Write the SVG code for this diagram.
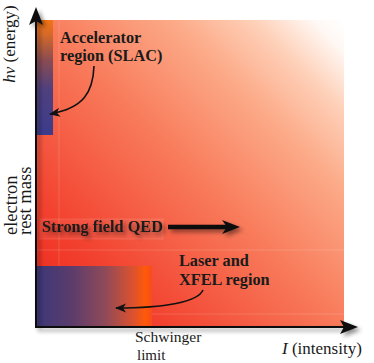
<svg xmlns="http://www.w3.org/2000/svg" width="374" height="363" viewBox="0 0 374 363">
<defs>
<style>
.lbl{font-family:"Liberation Serif","DejaVu Serif",serif;font-weight:bold;font-size:16.3px;fill:#1a1a1a}
.ax{font-family:"Liberation Serif","DejaVu Serif",serif;fill:#1a1a1a}
.grid{stroke:#5a5a5a;stroke-width:1}
.faint{stroke:#ffffff;stroke-opacity:0.15;stroke-width:1}
.curve{fill:none;stroke:#111;stroke-width:1.6}
</style>
<linearGradient id="bg" gradientUnits="userSpaceOnUse" x1="36" y1="327" x2="344" y2="20">
<stop offset="0" stop-color="#ec2418"/>
<stop offset="0.2" stop-color="#f2402e"/>
<stop offset="0.5" stop-color="#f87a5a"/>
<stop offset="0.72" stop-color="#fcaa88"/>
<stop offset="0.85" stop-color="#fed0b8"/>
<stop offset="0.95" stop-color="#fff8f4"/>
<stop offset="1" stop-color="#ffffff"/>
</linearGradient>
<linearGradient id="acc" x1="0" y1="0" x2="0" y2="1">
<stop offset="0" stop-color="#f27414"/>
<stop offset="0.12" stop-color="#d86a28"/>
<stop offset="0.35" stop-color="#8a4c52"/>
<stop offset="0.6" stop-color="#50407e"/>
<stop offset="1" stop-color="#3c3c8c"/>
</linearGradient>
<linearGradient id="las" x1="0" y1="0" x2="1" y2="0">
<stop offset="0" stop-color="#3c3878"/>
<stop offset="0.3" stop-color="#5a3c6c"/>
<stop offset="0.6" stop-color="#904a58"/>
<stop offset="0.85" stop-color="#e0522c"/>
<stop offset="0.94" stop-color="#ff5a08"/>
<stop offset="1" stop-color="#f84c1c"/>
</linearGradient>
<filter id="sh" x="-20%" y="-20%" width="160%" height="160%">
<feDropShadow dx="3" dy="3" stdDeviation="2" flood-color="#000" flood-opacity="0.45"/>
</filter>
<marker id="ah" markerUnits="userSpaceOnUse" markerWidth="12" markerHeight="10" refX="10" refY="4.5" orient="auto">
<path d="M0,0 L11,4.5 L0,9 L3,4.5 z" fill="#111"/>
</marker>
</defs>

<g id="plot-area">
<rect x="36" y="20" width="308" height="307" fill="url(#bg)"/>
<line class="faint" x1="59" y1="20" x2="59" y2="327"/>
<line class="faint" x1="36" y1="250" x2="344" y2="250"/>
<line class="faint" x1="36" y1="314" x2="344" y2="314"/>
</g>

<g id="accelerator-region">
<rect x="36" y="20" width="17" height="115" fill="url(#acc)"/>
</g>

<g id="laser-xfel-region">
<rect x="36" y="266" width="116" height="61" fill="url(#las)"/>
</g>

<g id="reference-lines">
<line class="grid" x1="152" y1="20" x2="152" y2="333" filter="url(#sh)"/>
<line class="grid" x1="31" y1="216" x2="344" y2="216" filter="url(#sh)"/>
</g>

<g id="strong-field-qed">
<rect x="40" y="219" width="123" height="20" fill="#ffffff" fill-opacity="0.06" stroke="#ffffff" stroke-opacity="0.12"/>
<text class="lbl" x="42" y="232" filter="url(#sh)">Strong field QED</text>
</g>

<g id="accelerator-label">
<text class="lbl" x="60" y="43">Accelerator</text>
<text class="lbl" x="60" y="61">region (SLAC)</text>
</g>

<g id="laser-label">
<text class="lbl" x="179" y="266">Laser and</text>
<text class="lbl" x="179" y="285">XFEL region</text>
</g>

<g id="connectors">
<g id="axes" filter="url(#sh)">
<line x1="36" y1="328" x2="36" y2="20" stroke="#111" stroke-width="2"/>
<path d="M36,7 L43,25 L36,21 L29,25 z" fill="#111"/>
<line x1="35" y1="327" x2="346" y2="327" stroke="#111" stroke-width="2"/>
<path d="M358,327 L340,334 L344,327 L340,320 z" fill="#111"/>
</g>
<path class="curve" d="M94,66 C93,92 84,108 50,114" marker-end="url(#ah)"/>
<path class="curve" d="M203,290 C198,302 165,308 116,308" marker-end="url(#ah)"/>
<g filter="url(#sh)">
<line x1="168" y1="227" x2="228" y2="227" stroke="#111" stroke-width="4.5"/>
<path d="M240,227 L222,220 L227,227 L222,234 z" fill="#111"/>
</g>
</g>

<g id="axis-labels">
<text class="ax" font-size="17" text-anchor="middle" transform="translate(15,44) rotate(-90)"><tspan font-style="italic">hν</tspan> (energy)</text>
<text class="ax" font-size="18.5" transform="translate(17,235) rotate(-90)">electron</text>
<text class="ax" font-size="18.5" transform="translate(31,235) rotate(-90)">rest mass</text>
<text class="ax" font-size="15.5" x="135" y="342">Schwinger</text>
<text class="ax" font-size="15" x="137" y="359.5">limit</text>
<text class="ax" font-size="17" x="282" y="354"><tspan font-style="italic">I</tspan> (intensity)</text>
</g>
</svg>
